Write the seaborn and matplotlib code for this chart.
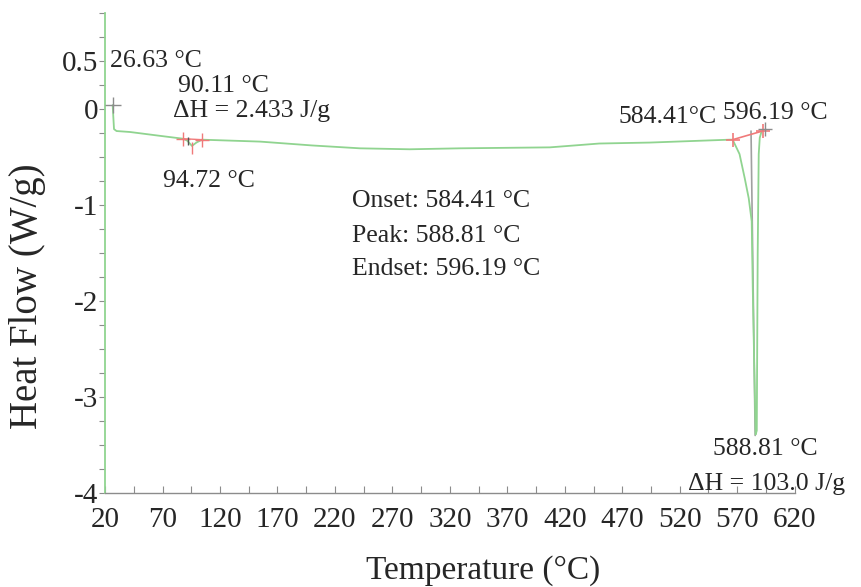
import numpy as np
import pandas as pd
import matplotlib
matplotlib.use("Agg")
import matplotlib.pyplot as plt
from matplotlib.ticker import FixedLocator
import seaborn as sns

# ---------------------------------------------------------------------------
# DSC curve
# ---------------------------------------------------------------------------
temperature = [26.63, 27.8, 30.0, 41.7, 67.8, 87.8, 91.5, 95.6, 99.5, 104.3,
               154.8, 200.0, 241.7, 285.0, 328.7, 407.0, 450.0, 494.0,
               540.0, 563.5, 566.0, 572.0, 576.5, 580.0, 582.6, 583.5,
               585.2, 586.0, 587.0, 587.8, 588.7, 589.6, 591.0]
heat_flow = [0.04, -0.21, -0.23, -0.24, -0.28, -0.31, -0.33, -0.385, -0.35,
             -0.32, -0.34, -0.38, -0.41, -0.42, -0.41, -0.40, -0.36, -0.35,
             -0.33, -0.32, -0.32, -0.47, -0.72, -0.93, -1.17, -1.86, -2.91,
             -3.39, -3.35, -1.51, -0.47, -0.30, -0.24]

# small peak (left) onset / endset markers
small_marks_x = [87.8, 104.3]
small_marks_y = [-0.31, -0.32]
small_peak = (95.6, -0.385)

# main melting peak construction
onset = (566.0, -0.32)
endset = (592.0, -0.23)
peak_line_x = [582.0, 585.6]
peak_line_y = [-0.23, -3.40]
start_point = (26.63, 0.04)

x_major = np.arange(20, 621, 50)
x_minor = np.arange(20, 621, 25)
y_major = [0.5, 0, -1, -2, -3, -4]
y_labels = ["0.5", "0", "-1", "-2", "-3", "-4"]
y_minor = np.arange(-4, 1.01, 0.25)

df = pd.DataFrame({"Temperature": temperature, "HeatFlow": heat_flow})

# ---------------------------------------------------------------------------
# Plot
# ---------------------------------------------------------------------------
sns.set_style("ticks")
plt.rcParams["font.family"] = ["Liberation Serif", "DejaVu Serif"]

fig = plt.figure(figsize=(8.61, 5.87), dpi=100)
ax = fig.add_axes([0.122, 0.160, 0.801, 0.818])

green = "#90d490"
red = "#f07a7a"
grey = "#8c8c8c"

sns.lineplot(data=df, x="Temperature", y="HeatFlow", ax=ax, color=green,
             linewidth=1.3, sort=False, estimator=None, zorder=3)

# construction lines
ax.plot(peak_line_x, peak_line_y, color="#a0a0a0", linewidth=1.2, zorder=2)
ax.plot([onset[0], endset[0]], [onset[1], endset[1]], color=red,
        linewidth=1.2, zorder=4)
ax.plot([onset[0], endset[0]], [onset[1], endset[1]], linestyle="none",
        marker="+", markersize=10, color=red, mew=1.2, zorder=5)
ax.plot([endset[0] + 2.5], [endset[1] + 0.02], linestyle="none", marker="+",
        markersize=10, color=grey, mew=1.0, zorder=5)
ax.plot(small_marks_x, small_marks_y, color=red, linewidth=1.0, zorder=4)
ax.plot(small_marks_x, small_marks_y, linestyle="none", marker="+",
        markersize=10, color=red, mew=1.0, zorder=5)
ax.plot([small_peak[0]], [small_peak[1] - 0.02], linestyle="none",
        marker="|", markersize=9, color=red, mew=1.0, zorder=5)
ax.plot([small_peak[0] - 3], [small_peak[1] + 0.05], linestyle="none",
        marker="|", markersize=6, color="#555555", mew=1.0, zorder=5)
ax.plot([start_point[0]], [start_point[1]], linestyle="none", marker="+",
        markersize=11, color=grey, mew=1.0, zorder=5)

# annotations
fs = 18.5
ax.text(24.3, 0.50, "26.63 °C", fontsize=fs, ha="left", va="center")
ax.text(83.5, 0.24, "90.11 °C", fontsize=fs, ha="left", va="center")
ax.text(79.0, -0.02, "ΔH = 2.433 J/g", fontsize=fs, ha="left", va="center")
ax.text(70.4, -0.75, "94.72 °C", fontsize=fs, ha="left", va="center")
ax.text(234.8, -0.96, "Onset: 584.41 °C", fontsize=fs, ha="left", va="center")
ax.text(234.8, -1.32, "Peak: 588.81 °C", fontsize=fs, ha="left", va="center")
ax.text(234.8, -1.67, "Endset: 596.19 °C", fontsize=fs, ha="left", va="center")
ax.text(552.0, -0.08, "584.41°C", fontsize=fs, ha="right", va="center")
ax.text(558.0, -0.04, "596.19 °C", fontsize=fs, ha="left", va="center")
ax.text(548.7, -3.54, "588.81 °C", fontsize=fs, ha="left", va="center")
ax.text(527.0, -3.91, "ΔH = 103.0 J/g", fontsize=fs, ha="left", va="center")

# axes
ax.set_xlim(20, 620)
ax.set_ylim(-4, 1.0)
ax.xaxis.set_major_locator(FixedLocator(x_major))
ax.xaxis.set_minor_locator(FixedLocator(x_minor))
ax.yaxis.set_major_locator(FixedLocator(y_major))
ax.yaxis.set_minor_locator(FixedLocator(y_minor))
ax.set_xticklabels([str(v) for v in x_major])
ax.set_yticklabels(y_labels)

ax.tick_params(axis="x", which="both", direction="in", length=5,
               color=grey, width=0.8, labelsize=21, pad=10)
ax.tick_params(axis="y", which="both", direction="out", length=4,
               color=grey, width=0.8, labelsize=21, pad=1)

ax.spines["top"].set_visible(False)
ax.spines["right"].set_visible(False)
ax.spines["left"].set_color(green)
ax.spines["left"].set_linewidth(1.3)
ax.spines["bottom"].set_color(grey)
ax.spines["bottom"].set_linewidth(1.0)

ax.set_xlabel("Temperature (°C)", fontsize=24)
ax.set_ylabel("Heat Flow (W/g)", fontsize=28)
ax.xaxis.set_label_coords(0.548, -0.13)
ax.yaxis.set_label_coords(-0.085, 0.41)

fig.savefig("out.png", dpi=100)
